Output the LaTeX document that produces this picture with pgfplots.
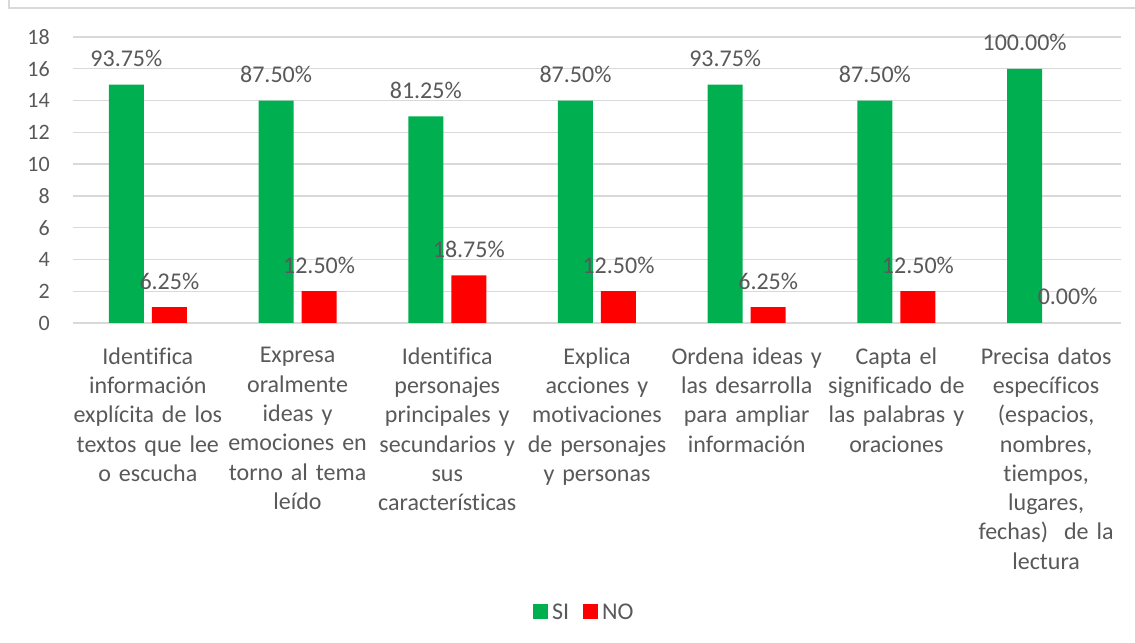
\documentclass[border=0pt]{standalone}
\usepackage{fontspec}
\setmainfont{Carlito}[Ligatures=CommonOff]
\usepackage{pgfplots}
\pgfplotsset{compat=1.18}
\definecolor{txt}{HTML}{595959}
\definecolor{gridc}{HTML}{D9D9D9}
\definecolor{gsi}{HTML}{00B050}
\definecolor{rno}{HTML}{FF0000}
\begin{document}
\begin{tikzpicture}[x=1bp,y=1bp,font=\fontsize{24bp}{29.3bp}\selectfont]
\path[use as bounding box, fill=white] (0,0) rectangle (1135,643);
\draw[gridc, line width=1.5bp] (9,643) -- (9,635) -- (1135,635);
\begin{axis}[
  at={(73bp,320bp)}, anchor=south west,
  scale only axis, width=1048bp, height=286bp,
  ybar, bar width=35bp,
  xmin=-0.5, xmax=6.5, ymin=0, ymax=18,
  ytick={0,2,...,18},
  xtick={0,1,2,3,4,5,6},
  xticklabels={
    {Identifica\\información\\explícita de los\\textos que lee\\o escucha},
    {Expresa\\oralmente\\ideas y\\emociones en\\torno al tema\\leído},
    {Identifica\\personajes\\principales y\\secundarios y\\sus\\características},
    {Explica\\acciones y\\motivaciones\\de personajes\\y personas},
    {Ordena ideas y\\las desarrolla\\para ampliar\\información},
    {Capta el\\significado de\\las palabras y\\oraciones},
    {Precisa datos\\específicos\\(espacios,\\nombres,\\tiempos,\\lugares,\\fechas)\ \ de la\\lectura}},
  xticklabel style={text width=160bp, align=center, anchor=north, inner sep=0pt, yshift=-20bp, text=txt},
  yticklabel style={anchor=east, inner sep=0pt, xshift=-23bp, text=txt, font=\fontsize{22bp}{26bp}\selectfont},
  /pgf/number format/assume math mode=true,
  axis line style={draw=none},
  tick style={draw=none},
  ymajorgrids, major grid style={gridc, line width=1.3bp},
  point meta=explicit symbolic,
  nodes near coords,
  every node near coord/.append style={anchor=base, yshift=18bp, inner sep=0pt, text=txt},
  legend style={at={(0.487,-1.0105)}, anchor=center, draw=none, fill=none, text=txt,
    legend columns=2, /tikz/every even column/.append style={column sep=14bp},
    inner sep=0pt, nodes={inner sep=0pt}},
  legend image code/.code={\fill[#1] (0bp,-7.5bp) rectangle (15bp,7.5bp);},
  clip=false,
]
\addplot[fill=gsi, draw=none, bar shift=-21.5bp] coordinates {
  (0,15) [93.75\%] (1,14) [87.50\%] (2,13) [81.25\%] (3,14) [87.50\%]
  (4,15) [93.75\%] (5,14) [87.50\%] (6,16) [100.00\%]};
\addplot[fill=rno, draw=none, bar shift=21.5bp] coordinates {
  (0,1) [6.25\%] (1,2) [12.50\%] (2,3) [18.75\%] (3,2) [12.50\%]
  (4,1) [6.25\%] (5,2) [12.50\%]};
\addplot[fill=none, draw=none, bar shift=21.5bp, forget plot] coordinates {
  (6,0) [0.00\%]};
\legend{\,SI,\,NO}
\end{axis}
\end{tikzpicture}
\end{document}
